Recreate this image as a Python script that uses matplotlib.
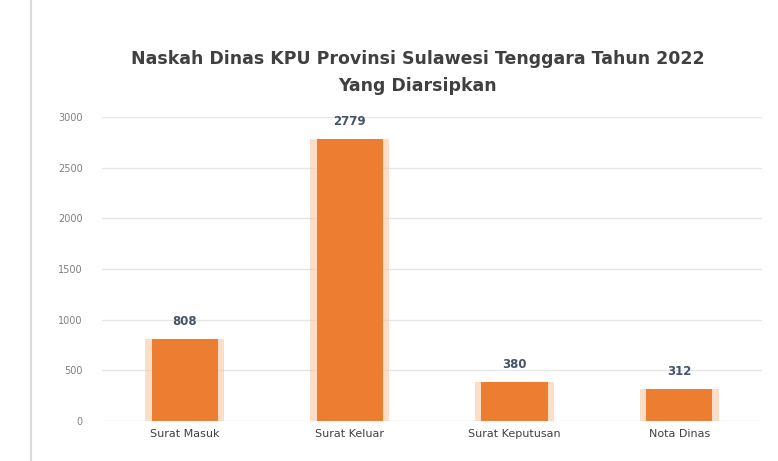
import matplotlib.pyplot as plt

categories = ["Surat Masuk", "Surat Keluar", "Surat Keputusan", "Nota Dinas"]
values = [808, 2779, 380, 312]
yticks = [0, 500, 1000, 1500, 2000, 2500, 3000]
title = "Naskah Dinas KPU Provinsi Sulawesi Tenggara Tahun 2022\nYang Diarsipkan"

fig = plt.figure(figsize=(7.78, 4.61), dpi=100)
ax = fig.add_axes([102/778, 40/461, 660/778, 304/461])

x = range(len(categories))
# glow
ax.bar(x, values, width=0.48, color="#F8C9A4", alpha=0.6, zorder=2)
ax.bar(x, values, width=0.40, color="#ED7D31", zorder=3)

for xi, v in zip(x, values):
    ax.text(xi, v + 110, f"{v}", ha="center", va="bottom", fontsize=8.5,
            fontweight="bold", color="#44546A", zorder=4)

ax.set_ylim(0, 3000)
ax.set_yticks(yticks)
ax.set_yticklabels([str(t) for t in yticks], fontsize=7, color="#7f7f7f")
ax.set_xticks(list(x))
ax.set_xticklabels(categories, fontsize=8, color="#404040")
ax.set_xlim(-0.5, len(categories) - 0.5)
ax.grid(axis="y", color="#e6e6e6", linewidth=1, zorder=0)
for s in ax.spines.values():
    s.set_visible(False)
ax.tick_params(axis="y", length=0, pad=14)
ax.tick_params(axis="x", length=0, pad=6)

fig.text(0.537, 0.795, title, ha="center", va="bottom", fontsize=12.5,
         fontweight="bold", color="#404040", linespacing=1.6)

# chart border
fig.add_artist(plt.Line2D([31/778, 31/778], [0, 1], color="#d9d9d9", lw=1.5))

fig.savefig("out.png", dpi=100)
